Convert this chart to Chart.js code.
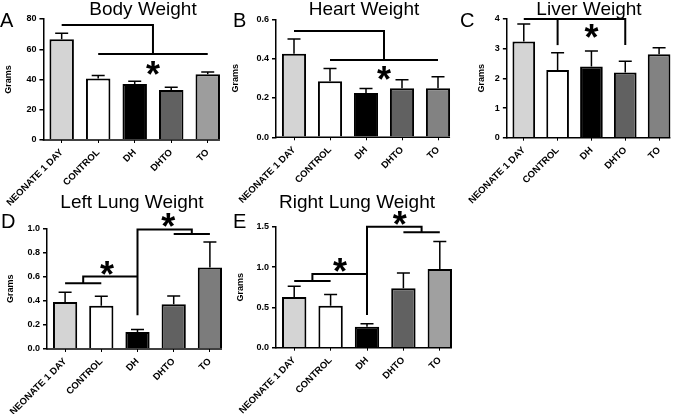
<!DOCTYPE html>
<html>
<head>
<meta charset="utf-8">
<script src="https://cdn.jsdelivr.net/npm/chart.js@4.4.1/dist/chart.umd.min.js"></script>
<style>
  body { margin: 0; background: #fff; }
  #fig { position: relative; width: 678px; height: 414px; overflow: hidden; font-family: "Liberation Sans", Arial, sans-serif; color: #000; }
  #fig canvas { position: absolute; }
  .ttl { position: absolute; font-size: 19px; line-height: 19px; white-space: nowrap; transform: translateX(-50%); }
  .let { position: absolute; font-size: 20px; line-height: 20px; }
</style>
</head>
<body>
<div id="fig">
  <canvas id="cA"></canvas>
  <canvas id="cB"></canvas>
  <canvas id="cC"></canvas>
  <canvas id="cD"></canvas>
  <canvas id="cE"></canvas>
  <div class="ttl" style="left:143px;top:-1px">Body Weight</div>
  <div class="ttl" style="left:364px;top:-1px">Heart Weight</div>
  <div class="ttl" style="left:589px;top:-1px">Liver Weight</div>
  <div class="ttl" style="left:132px;top:192px">Left Lung Weight</div>
  <div class="ttl" style="left:357px;top:192px">Right Lung Weight</div>
  <div class="let" style="left:0px;top:10px">A</div>
  <div class="let" style="left:233px;top:10px">B</div>
  <div class="let" style="left:460px;top:10px">C</div>
  <div class="let" style="left:1px;top:211px">D</div>
  <div class="let" style="left:233px;top:211px">E</div>
</div>
<script>
  const groups = ["NEONATE 1 DAY", "CONTROL", "DH", "DHTO", "TO"];

  // means and upper error (SEM)
  const bodyMean = [66.6, 40.7, 37.0, 33.1, 43.4];
  const bodyErr = [4.0, 1.9, 1.8, 1.8, 1.6];
  const heartMean = [0.425, 0.285, 0.225, 0.25, 0.25];
  const heartErr = [0.075, 0.065, 0.023, 0.042, 0.058];
  const liverMean = [3.24, 2.28, 2.4, 2.2, 2.81];
  const liverErr = [0.59, 0.58, 0.52, 0.38, 0.22];
  const leftLungMean = [0.39, 0.358, 0.14, 0.37, 0.676];
  const leftLungErr = [0.08, 0.08, 0.022, 0.07, 0.21];
  const rightLungMean = [0.628, 0.52, 0.26, 0.737, 0.976];
  const rightLungErr = [0.134, 0.138, 0.037, 0.19, 0.34];

  // y tick values
  const bodyTicks = [0, 20, 40, 60, 80];
  const heartTicks = [0, 0.2, 0.4, 0.6];
  const liverTicks = [0, 1, 2, 3, 4];
  const leftLungTicks = [0, 0.2, 0.4, 0.6, 0.8, 1.0];
  const rightLungTicks = [0, 0.5, 1.0, 1.5];

  // significance brackets: polylines of [category index, value]
  const bodyBrackets = [[[0, 76], [2.5, 76], [2.5, 56.8]], [[1, 56.8], [4, 56.8]]];
  const bodyStars = [[2.5, 47.6]];
  const heartBrackets = [[[0, 0.54], [2.5, 0.54], [2.5, 0.393]], [[1, 0.393], [4, 0.393]]];
  const heartStars = [[2.5, 0.325]];
  const liverBrackets = [[[1, 3.12], [1, 4.0]], [[0, 4.0], [3, 4.0], [3, 3.12]]];
  const liverStars = [[2, 3.57]];
  const leftLungBrackets = [
    [[0, 0.544], [1, 0.544]],
    [[0.5, 0.544], [0.5, 0.6], [2, 0.6]],
    [[2, 0.28], [2, 0.99], [3.5, 0.99], [3.5, 0.953]],
    [[3, 0.953], [4, 0.953]]
  ];
  const leftLungStars = [[1.16, 0.669], [2.85, 1.063]];
  const rightLungBrackets = [
    [[0, 0.827], [1, 0.827]],
    [[0.5, 0.827], [0.5, 0.914], [2, 0.914]],
    [[2, 0.405], [2, 1.5], [3.5, 1.5], [3.5, 1.43]],
    [[3, 1.43], [4, 1.43]]
  ];
  const rightLungStars = [[1.26, 1.025], [2.9, 1.604]];

  Chart.defaults.font.family = '"Liberation Sans", Arial, sans-serif';

  const annot = (errs, brackets, stars) => ({
    id: "annot",
    afterDatasetsDraw(chart) {
      const ctx = chart.ctx;
      const x = chart.scales.x, y = chart.scales.y;
      const meta = chart.getDatasetMeta(0);
      const vals = chart.data.datasets[0].data;
      ctx.save();
      ctx.strokeStyle = "#000";
      ctx.fillStyle = "#000";

      // x axis line, ends at the last bar
      const last = meta.data[meta.data.length - 1];
      const y0 = y.getPixelForValue(0);
      ctx.lineWidth = 1.5;
      ctx.beginPath();
      ctx.moveTo(chart.chartArea.left - 0.75, y0);
      ctx.lineTo(last.x + last.width / 2, y0);
      ctx.stroke();

      // upper error bars
      meta.data.forEach((bar, i) => {
        const top = y.getPixelForValue(vals[i] + errs[i]);
        ctx.beginPath();
        ctx.moveTo(bar.x, bar.y);
        ctx.lineTo(bar.x, top);
        ctx.moveTo(bar.x - 6.5, top);
        ctx.lineTo(bar.x + 6.5, top);
        ctx.stroke();
      });

      ctx.lineWidth = 2;
      brackets.forEach(line => {
        ctx.beginPath();
        line.forEach(([c, v], k) => {
          const px = x.getPixelForValue(c), py = y.getPixelForValue(v);
          if (k) ctx.lineTo(px, py); else ctx.moveTo(px, py);
        });
        ctx.stroke();
      });

      ctx.font = 'bold 36px "Liberation Sans", Arial, sans-serif';
      ctx.textAlign = "center";
      ctx.textBaseline = "alphabetic";
      stars.forEach(([c, v]) => {
        ctx.fillText("*", x.getPixelForValue(c), y.getPixelForValue(v) + 18.7);
      });
      ctx.restore();
    }
  });

  const makePanel = (id, box, means, errs, ticks, decimals, toColor, brackets, stars) => {
    const cv = document.getElementById(id);
    cv.width = box.w;
    cv.height = box.h;
    cv.style.left = box.left + "px";
    cv.style.top = box.top + "px";
    return new Chart(cv, {
      type: "bar",
      data: {
        labels: groups,
        datasets: [{
          data: means,
          backgroundColor: ["#d4d4d4", "#ffffff", "#000000", "#616161", toColor],
          borderColor: "#000",
          borderWidth: 2,
          barPercentage: 0.67,
          categoryPercentage: 1
        }]
      },
      options: {
        responsive: false,
        animation: false,
        devicePixelRatio: 1,
        layout: { autoPadding: false, padding: { top: box.pt, right: box.pr, left: 0, bottom: 0 } },
        plugins: { legend: { display: false }, tooltip: { enabled: false }, title: { display: false } },
        scales: {
          x: {
            offset: true,
            border: { display: false },
            grid: { offset: false, drawOnChartArea: false, tickLength: 3, color: "#000", lineWidth: 1 },
            ticks: { minRotation: 45, maxRotation: 45, autoSkip: false, padding: 4, color: "#000", font: { size: 9.5, weight: "bold" } },
            afterFit: s => { s.height = box.hx; }
          },
          y: {
            min: 0,
            max: ticks[ticks.length - 1],
            border: { display: true, color: "#000", width: 1.5 },
            grid: { drawOnChartArea: false, tickLength: 4, color: "#000", lineWidth: 1.5 },
            ticks: { padding: 3, color: "#000", font: { size: 9, weight: "bold" }, callback: v => Number(v).toFixed(decimals) },
            afterBuildTicks: s => { s.ticks = ticks.map(v => ({ value: v })); },
            title: { display: true, text: "Grams", color: "#000", padding: { top: 3, bottom: 0 }, font: { size: 9, weight: "bold" } },
            afterFit: s => { s.width = box.wy; }
          }
        }
      },
      plugins: [annot(errs, brackets, stars)]
    });
  };

  makePanel("cA", { left: 0, top: 0, w: 230, h: 210, wy: 43, pt: 19, pr: 4, hx: 70 },
    bodyMean, bodyErr, bodyTicks, 0, "#9d9d9d", bodyBrackets, bodyStars);
  makePanel("cB", { left: 227, top: 0, w: 233, h: 210, wy: 49, pt: 19.3, pr: 4, hx: 72.7 },
    heartMean, heartErr, heartTicks, 1, "#828282", heartBrackets, heartStars);
  makePanel("cC", { left: 463, top: 0, w: 215, h: 210, wy: 34, pt: 19, pr: 2, hx: 72.3 },
    liverMean, liverErr, liverTicks, 0, "#828282", liverBrackets, liverStars);
  makePanel("cD", { left: 2, top: 205, w: 230, h: 209, wy: 45, pt: 23.3, pr: 4, hx: 65 },
    leftLungMean, leftLungErr, leftLungTicks, 1, "#7c7c7c", leftLungBrackets, leftLungStars);
  makePanel("cE", { left: 232, top: 205, w: 230, h: 209, wy: 44, pt: 21.7, pr: 4, hx: 66.3 },
    rightLungMean, rightLungErr, rightLungTicks, 1, "#a0a0a0", rightLungBrackets, rightLungStars);
</script>
</body>
</html>
